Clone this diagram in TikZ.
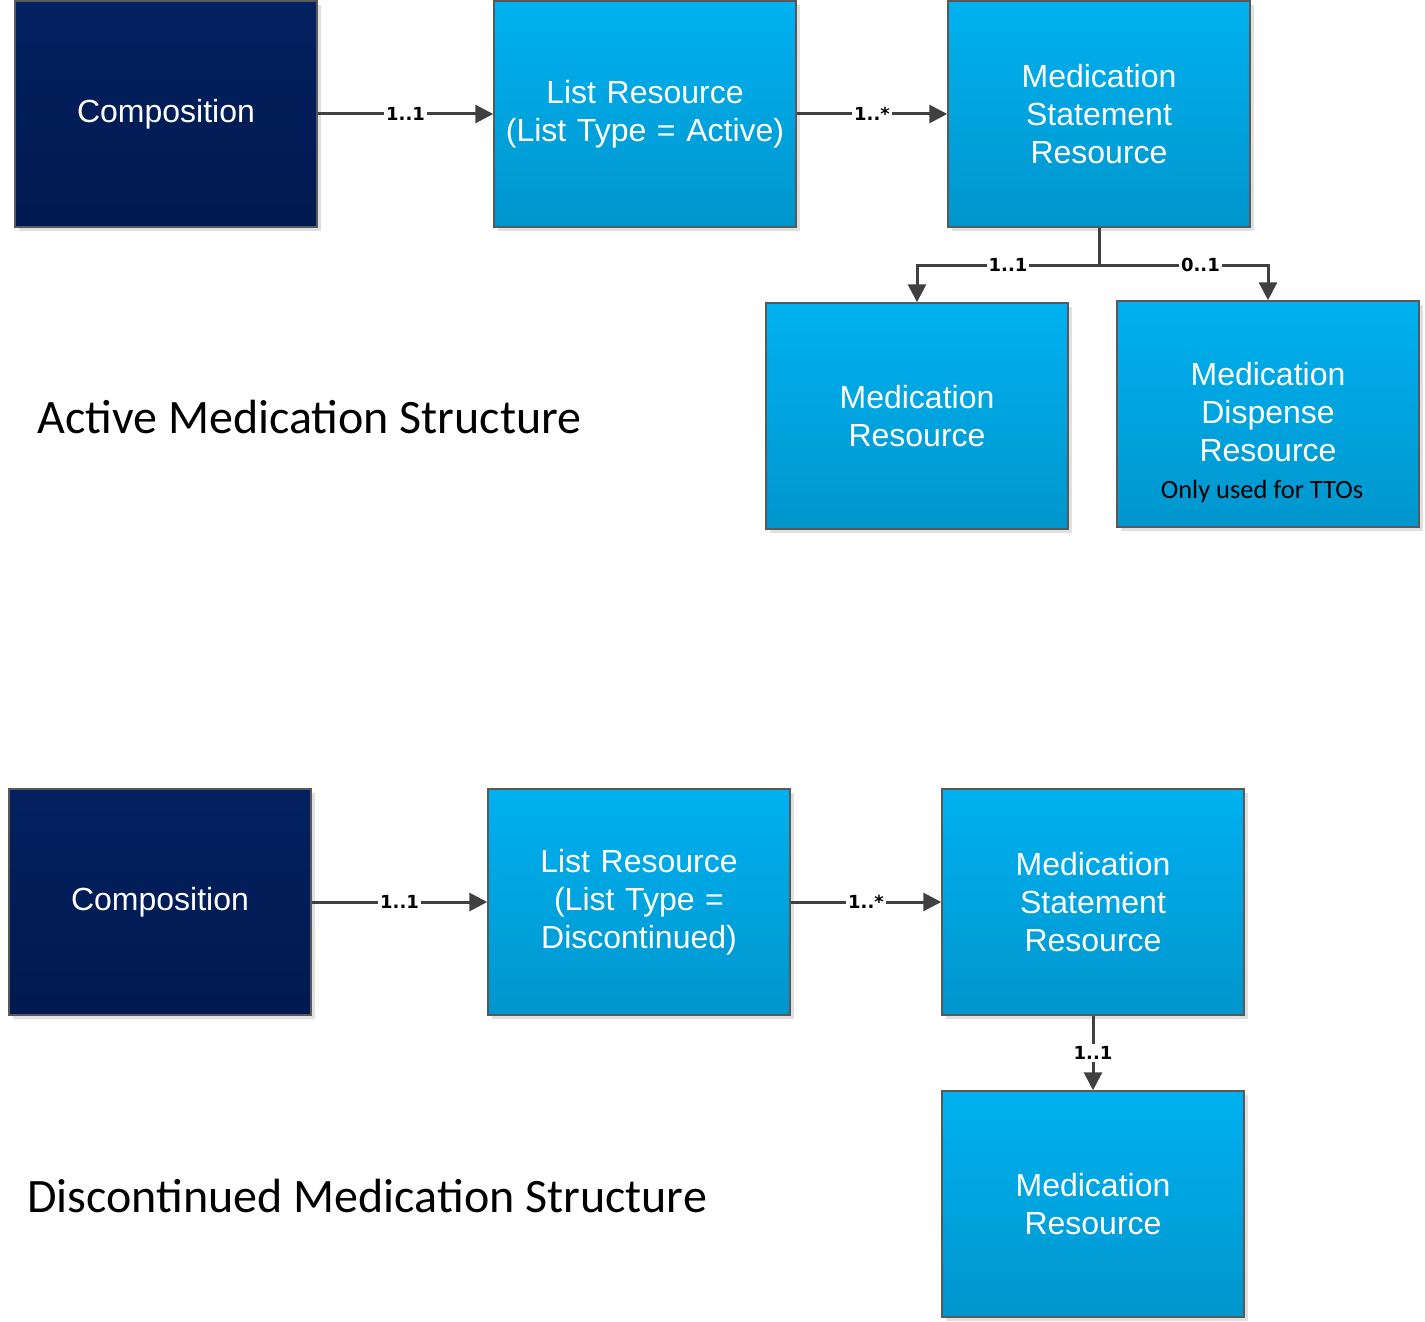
\documentclass[tikz,border=0pt]{standalone}
\usepackage{fontspec}
\setmainfont{Liberation Sans}
\newfontfamily\calibrifont{Carlito}
\newfontfamily\multfont{DejaVu Sans}
\usetikzlibrary{arrows.meta,positioning,shadows}

\definecolor{navytop}{RGB}{3,33,96}
\definecolor{navybottom}{RGB}{0,25,80}
\definecolor{cyantop}{RGB}{0,177,240}
\definecolor{cyanbottom}{RGB}{0,150,205}
\definecolor{linkgray}{RGB}{64,64,64}

\tikzset{
    resbox/.style = {draw = black!65, line width = 0.75pt,
        minimum width = 151pt, minimum height = 113pt,
        inner xsep = 2pt, text width = 146pt,
        align = center, text = white, font = \fontsize{16}{19}\selectfont,
        drop shadow = {shadow xshift = 2pt, shadow yshift = -2pt,
            fill = black!12, opacity = 1}},
    navybox/.style = {resbox, top color = navytop, bottom color = navybottom},
    cyanbox/.style = {resbox, top color = cyantop, bottom color = cyanbottom},
    link/.style = {draw = linkgray, line width = 1.5pt,
        -{Triangle[length = 9pt, width = 9pt]}},
    mult/.style = {fill = white, inner sep = 1pt, text = black,
        font = \multfont\bfseries\fontsize{9}{10}\selectfont},
    heading/.style = {anchor = base west, inner sep = 0pt,
        font = \calibrifont\fontsize{24}{28}\selectfont}
}

\begin{document}
\begin{tikzpicture}[x = 0.5pt, y = -0.5pt] % 1 единица = 1 пиксель исходного рисунка
    \useasboundingbox (0,0) rectangle (1425,1322);

    % Активные назначения
    \node [navybox] (compA) at (166,114) {Composition};
    \node [cyanbox] (listA) at (645,114) {List Resource\\(List Type = Active)};
    \node [cyanbox] (stmtA) at (1099,114) {Medication\\Statement\\Resource};
    \node [cyanbox] (medA) at (917,416) {Medication\\Resource};
    \node [cyanbox] (dispA) at (1268,414) {};
    \node [text = white, align = center, font = \fontsize{16}{19}\selectfont]
        (dispText) at (1268,412) {Medication\\Dispense\\Resource};
    \node [font = \calibrifont\fontsize{13.2}{15}\selectfont]
        (ttoNote) at (1262,491) {Only used for TTOs};
    \node [heading] (titleA) at (37,433) {Active Medication Structure};

    \coordinate (forkA) at (1099,265); % точка ветвления

    \draw [link] (compA) -- node [mult] {1..1} (listA);
    \draw [link] (listA) -- node [mult] {1..*} (stmtA);
    \draw [link] (stmtA.south) -- (forkA) -| node [mult, pos = 0.25] {1..1} (medA);
    \draw [link] (forkA) -| node [mult, pos = 0.3] {0..1} (dispA);

    % Отменённые назначения
    \node [navybox] (compB) at (160,902) {Composition};
    \node [cyanbox] (listB) at (639,902) {List Resource\\(List Type =\\Discontinued)};
    \node [cyanbox] (stmtB) at (1093,902) {Medication\\Statement\\Resource};
    \node [cyanbox] (medB) at (1093,1204) {Medication\\Resource};
    \node [heading] (titleB) at (27,1212) {Discontinued Medication Structure};

    \draw [link] (compB) -- node [mult] {1..1} (listB);
    \draw [link] (listB) -- node [mult] {1..*} (stmtB);
    \draw [link] (stmtB) -- node [mult] {1..1} (medB);
\end{tikzpicture}
\end{document}
